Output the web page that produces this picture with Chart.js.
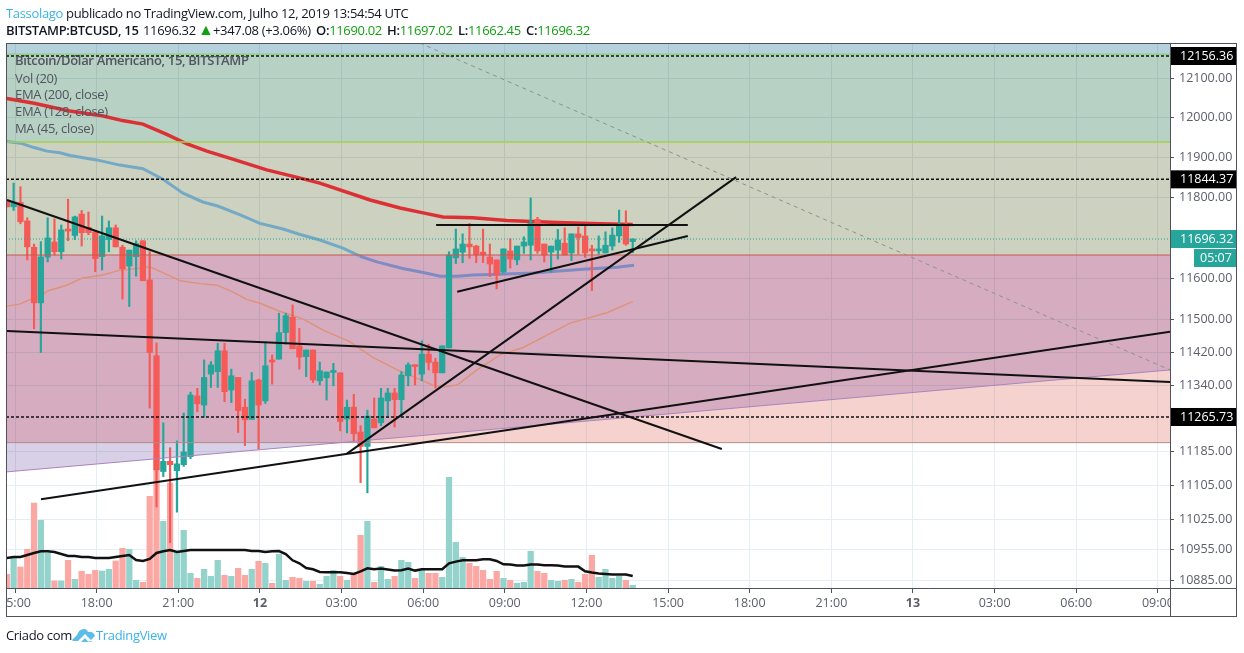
<!DOCTYPE html>
<html>
<head>
<meta charset="utf-8">
<style>
  html, body { margin: 0; padding: 0; background: #fff; overflow: hidden; }
  body { width: 1244px; height: 653px; position: relative; font-family: "Open Sans", sans-serif; }
  canvas { position: absolute; left: 0; top: 0; }
  .t { position: absolute; white-space: nowrap; font-size: 13px; letter-spacing: -0.33px; line-height: 16px; color: #131722; }
  .b { font-weight: 600; }
  .g { color: #12a012; }
  .leg { position: absolute; left: 15px; white-space: nowrap; font-size: 13px; letter-spacing: -0.33px; line-height: 16px; color: #51555f; }
</style>
<script src="https://cdn.jsdelivr.net/npm/chart.js@4/dist/chart.umd.min.js"></script>
</head>
<body>
<canvas id="chart" width="1244" height="653"></canvas>

<div class="t" style="left:6px;top:5px"><span style="color:#3cb2e6">Tassolago</span> publicado no TradingView.com, Julho 12, 2019 13:54:54 UTC</div>
<div class="t b" style="left:6px;top:22px">BITSTAMP:BTCUSD, 15</div>
<div class="t" style="left:143px;top:22px">11696.32</div>
<div class="t g" style="left:198px;top:21px;font-size:16px">&#9650;</div>
<div class="t" style="left:213px;top:22px">+347.08 (+3.06%)</div>
<div class="t" style="left:316px;top:22px"><span class="b">O:</span><span class="g">11690.02</span></div>
<div class="t" style="left:387px;top:22px"><span class="b">H:</span><span class="g">11697.02</span></div>
<div class="t" style="left:458px;top:22px"><span class="b">L:</span><span class="g">11662.45</span></div>
<div class="t" style="left:526px;top:22px"><span class="b">C:</span><span class="g">11696.32</span></div>

<div class="leg b" style="top:52px">Bitcoin/Dólar Americano, 15, BITSTAMP</div>
<div class="leg" style="top:70px">Vol (20)</div>
<div class="leg" style="top:86px">EMA (200, close)</div>
<div class="leg" style="top:103px">EMA (128, close)</div>
<div class="leg" style="top:120px">MA (45, close)</div>

<div class="t" style="left:6px;top:627px">Criado com</div>
<svg style="position:absolute;left:72px;top:627px" width="24" height="16" viewBox="0 0 24 16">
  <path d="M0 13 L5 8 Q7 2 12 2 Q15 2 16 5 Q21 4 23 9 L19 13 L13 7 L6 14 L1 14 Z M13 11 L16 14.5 Q20 15 23 12 L19 15 L9 15 Z" fill="#5cbde9"/>
</svg>
<div class="t" style="left:96px;top:627px;color:#3cb2e6">TradingView</div>

<script>
// 15 minute bars, first one is 14:45
const opens = [11790,11776,11787,11741,11676,11540,11652,11689,11665,11719,
  11705,11758,11725,11714,11653,11695,11724,11676,11630,11653,
  11692,11596,11412,11137,11161,11139,11153,11172,11316,11294,
  11368,11374,11424,11330,11360,11289,11260,11354,11304,11402,
  11404,11468,11505,11436,11410,11426,11352,11359,11372,11371,
  11261,11289,11230,11196,11261,11252,11304,11323,11307,11364,
  11390,11368,11416,11397,11371,11431,11650,11664,11684,11679,
  11664,11652,11645,11615,11667,11645,11679,11681,11745,11684,
  11664,11669,11686,11662,11709,11704,11672,11667,11662,11679,
  11704,11729,11690.02];
const highs = [11792,11835,11826,11749,11684,11690,11749,11746,11731,11795,
  11753,11767,11763,11714,11753,11741,11731,11681,11669,11692,
  11692,11665,11443,11252,11193,11209,11275,11325,11334,11402,
  11398,11442,11442,11380,11360,11308,11372,11356,11445,11414,
  11515,11515,11535,11478,11426,11426,11397,11373,11394,11371,
  11306,11320,11245,11282,11311,11334,11334,11334,11374,11395,
  11390,11448,11440,11406,11436,11665,11721,11709,11735,11681,
  11721,11684,11645,11672,11697,11679,11702,11798,11750,11684,
  11679,11720,11724,11709,11726,11731,11681,11704,11714,11724,
  11768,11766,11697.02];
const lows = [11776,11767,11734,11645,11477,11420,11640,11657,11647,11692,
  11695,11679,11707,11616,11620,11665,11677,11549,11531,11605,
  11594,11287,11054,11125,10971,11042,11149,11167,11278,11265,
  11336,11336,11302,11300,11229,11198,11260,11190,11298,11344,
  11404,11440,11429,11380,11362,11348,11342,11306,11340,11233,
  11228,11208,11111,11087,11240,11245,11264,11242,11265,11340,
  11342,11352,11378,11335,11371,11431,11636,11638,11649,11638,
  11638,11604,11574,11613,11625,11633,11661,11645,11661,11640,
  11615,11647,11657,11643,11659,11651,11570,11659,11662,11669,
  11688,11681,11662.45];
const closes = [11776,11788,11739,11677,11540,11652,11699,11665,11719,11716,
  11751,11712,11712,11648,11704,11724,11677,11623,11669,11685,
  11594,11420,11141,11161,11153,11155,11183,11318,11297,11360,
  11390,11424,11326,11364,11281,11259,11352,11294,11388,11397,
  11468,11509,11429,11409,11426,11354,11376,11373,11373,11255,
  11289,11226,11196,11268,11240,11311,11323,11307,11366,11390,
  11386,11416,11396,11371,11436,11657,11672,11684,11677,11657,
  11657,11635,11608,11672,11647,11679,11689,11735,11667,11657,
  11679,11694,11657,11709,11700,11662,11667,11669,11681,11706,
  11731,11684,11696.32];
const volumes = [13.7,30,21,38.7,85,67.7,35,7,7,27.7,
  8.7,16.7,13.7,17.7,17,18.7,27,39.7,38.7,7.7,
  5.7,91.7,134,66.7,105,35,57.7,14.7,9.7,18.7,
  11.7,27.7,12.7,11.7,19.7,12.7,18.7,26.7,24.7,4.7,
  33.7,7.7,10.7,9.7,6.7,6.7,3.7,11.7,17.7,11.7,
  7.7,13.7,52.7,66.7,5.7,21.7,8.7,11.7,27.7,25.7,
  9.7,17.7,14.7,14.7,10.7,110.7,45.7,30.7,24.7,21.7,
  17.7,8.7,16.7,9.7,7.7,4.7,5.7,36.7,16.7,14.7,
  7.7,6.7,7.7,8.7,5.7,13.7,32.7,10.7,18.7,9.7,
  11.7,7.7,2.7];
const volumeMA = [30,31,31,33,35,36.7,36.7,36,34,32,
  32,31,31,30,30,30,31,32,33,28,
  27,29,35,36.7,38,36,37,38,38,38,
  38,38,38,38,38,38,37,37,36,36.7,
  37,34,27.7,24.7,20,18.7,16,15.7,15.7,15.7,
  15,14,16.7,19.7,18.7,19.4,18.4,17.4,17.7,19.4,
  17.4,18.7,18.7,18.7,18.7,24.7,26.4,27.7,27.7,27.7,
  28.7,28.7,27,23.7,23.4,22.4,22.4,23.4,23.4,22.7,
  22.7,22.4,21.4,21.4,21.4,16.7,15.4,14.4,14,13.4,
  13.4,13.4,12];

// indicators, read at their bends
const ema200X = [-1,3,8,13,16,19,22.5,25.5,28.4,32.2,37.2,42,45,52.4,56.8,60.2,63.1,67.5,72.5,79.9,86.2,91];
const ema200 = [12048,12036,12017,12004,11992,11983,11957,11933,11915,11895,11868,11848,11835,11793,11773,11761,11751,11749,11742,11737,11734,11732];
const ema128X = [-1,1,3,4.9,6.8,8.3,12.2,15.6,19,22,24.9,27.8,30,33.3,36.2,39.6,42,45,48.4,50.9,53.4,57.2,60.2,62.7,65.2,67.5,71.5,76.3,83.7,88.7,91.2];
const ema128 = [11939,11935,11924,11915,11911,11904,11893,11880,11871,11844,11810,11788,11778,11756,11735,11721,11708,11694,11674,11654,11640,11624,11614,11605,11605,11608,11610,11613,11622,11627,11632];
const ma45X = [-1,0.9,2.4,3.9,5,7.8,10,13.1,15.2,18.1,20,22,24.5,27.4,29.9,32.2,34.3,36.2,39.2,42.5,45.5,49.4,52.8,56.4,58.7,61.6,63.1,65.2,68.1,71.5,74.9,78.4,81.8,87.2,91];
const ma45 = [11532,11537,11548,11555,11569,11583,11600,11608,11618,11624,11628,11613,11594,11587,11583,11567,11548,11539,11519,11501,11474,11446,11408,11378,11362,11342,11337,11342,11378,11414,11432,11462,11491,11516,11543];

// drawings: [x1, x2] and [price1, price2]
const xMin = -1.123, xMax = 169.98;
const priceMin = 10866.9, priceMax = 12189.7;
const trendA = { x: [-0.98, 104.1], y: [11793, 11190] };
const trendB = { x: [-0.98, xMax], y: [11472, 11349] };
const trendC = { x: [4.02, xMax], y: [11072, 11470] };
const trendD = { x: [49, 106.2], y: [11179, 11850] };
const trendE = { x: [65.2, 99.1], y: [11567, 11704] };
const trendF = { x: [62.1, 99.1], y: [11731, 11731] };
const grayLine = { x: [59.7, xMax], y: [priceMax, 11378] };
const wedge = { x: [xMin, xMax], y: [11136, 11378] };

const dottedLevels = [12156.36, 11844.37, 11265.73];
const lastPrice = 11696.32;
const zoneLevels = [priceMax, 12161, 11938, 11657, 11205];
const zoneColors = ['#b5d1dc', '#b7d1c4', '#ccd1c0'];
const zoneInside = '#d6adc0', zoneBelow = '#d8d0e6', zoneSalmon = '#f5d2cd';

const yTicks = [12100, 12000, 11900, 11800, 11600, 11500, 11420, 11340, 11185, 11105, 11025, 10955, 10885];
const xTickLabels = ['15:00','18:00','21:00','12','03:00','06:00','09:00','12:00','15:00','18:00','21:00','13','03:00','06:00','09:00'];
const timer = '05:07';

const TEAL = '#26a69a', RED = '#f55a56';
const barIdx = opens.map((_, k) => k - 1);
const isUp = k => closes[k] >= opens[k];
const zip = (xs, ys) => xs.map((x, k) => ({ x, y: ys[k] }));

function lineDs(points, color, width, dash, order, extra) {
  return Object.assign({
    type: 'line', data: points, borderColor: color, borderWidth: width, borderDash: dash || [],
    pointRadius: 0, tension: 0, fill: false, order: order, yAxisID: 'y', spanGaps: true
  }, extra || {});
}

const zonesPlugin = {
  id: 'zones',
  beforeDatasetsDraw(chart) {
    const { ctx, chartArea: a, scales: { y } } = chart;
    const ys = zoneLevels.map(v => y.getPixelForValue(v));
    const l0 = y.getPixelForValue(wedge.y[0]), l1 = y.getPixelForValue(wedge.y[1]);
    ctx.save();
    ctx.globalCompositeOperation = 'multiply';
    zoneColors.forEach((c, k) => {
      ctx.fillStyle = c;
      ctx.fillRect(a.left, ys[k], a.width, ys[k + 1] - ys[k]);
    });
    // above the rising purple line
    ctx.save();
    ctx.beginPath();
    ctx.moveTo(a.left, ys[3]); ctx.lineTo(a.right, ys[3]); ctx.lineTo(a.right, l1); ctx.lineTo(a.left, l0);
    ctx.closePath(); ctx.clip();
    ctx.fillStyle = zoneInside; ctx.fillRect(a.left, ys[3], a.width, ys[4] - ys[3]);
    ctx.fillStyle = zoneBelow; ctx.fillRect(a.left, ys[4], a.width, l0 - ys[4]);
    ctx.restore();
    // under it
    ctx.beginPath();
    ctx.moveTo(a.left, l0); ctx.lineTo(a.right, l1); ctx.lineTo(a.right, ys[4]); ctx.lineTo(a.left, ys[4]);
    ctx.closePath(); ctx.clip();
    ctx.fillStyle = zoneSalmon; ctx.fillRect(a.left, l1, a.width, ys[4] - l1);
    ctx.restore();
  }
};

const framePlugin = {
  id: 'frame',
  afterDraw(chart) {
    const { ctx, chartArea: a, scales: { y } } = chart;
    ctx.save();
    // time labels are cut by the pane edges
    ctx.fillStyle = '#fff';
    ctx.fillRect(0, a.bottom + 1, a.left, 28);
    ctx.fillRect(a.right, a.bottom + 1, 74, 27);
    ctx.font = '12.5px "Open Sans"';
    ctx.textBaseline = 'middle';
    const badge = (value, bg, x, text, dy) => {
      const py = y.getPixelForValue(value) + (dy || 0);
      ctx.fillStyle = bg;
      ctx.fillRect(x, py - 9, 1236 - x, 18);
      ctx.fillStyle = '#fff';
      ctx.fillText(text, x === 1171 ? 1180 : x + 6, py);
    };
    dottedLevels.forEach(v => badge(v, '#000', 1171, v.toFixed(2)));
    badge(lastPrice, TEAL, 1171, lastPrice.toFixed(2));
    badge(lastPrice, TEAL, 1194, timer, 19);
    ctx.strokeStyle = '#50535e';
    ctx.lineWidth = 1;
    ctx.strokeRect(6.5, 43.5, 1230, 573);
    ctx.beginPath();
    ctx.moveTo(a.right + 0.5, 43); ctx.lineTo(a.right + 0.5, 617);
    ctx.moveTo(6, a.bottom + 0.5); ctx.lineTo(1237, a.bottom + 0.5);
    ctx.stroke();
    ctx.restore();
  }
};

const datasets = [
  { type: 'bar', yAxisID: 'vol', order: 20, grouped: false, barThickness: 5.6,
    data: volumes.map((v, k) => ({ x: barIdx[k], y: v })),
    backgroundColor: volumes.map((_, k) => isUp(k) ? '#94d3cb' : '#fba8a5') },
  lineDs(zip(barIdx, volumeMA), '#111', 2.5, null, 15, { yAxisID: 'vol' }),
  lineDs(zip(ma45X, ma45), '#df9279', 1.4, null, 14),
  lineDs(zip(ema128X, ema128), '#7aaac6', 3, null, 13, {
    segment: { borderColor: c => c.p0.parsed.y > 11657 ? '#74a9c6' : '#7f8bc2' } }),
  lineDs(zip(ema200X, ema200), '#dc3035', 3.5, null, 12),
  { type: 'bar', yAxisID: 'y', order: 6, grouped: false, barThickness: 1.5,
    data: lows.map((v, k) => ({ x: barIdx[k], y: [v, highs[k]] })),
    backgroundColor: lows.map((_, k) => isUp(k) ? TEAL : RED) },
  { type: 'bar', yAxisID: 'y', order: 5, grouped: false, barThickness: 5.6, minBarLength: 2,
    data: opens.map((v, k) => ({ x: barIdx[k], y: [v, closes[k]] })),
    backgroundColor: opens.map((_, k) => isUp(k) ? TEAL : RED) },
  lineDs(zip(wedge.x, wedge.y), '#ab84bd', 1, null, 4),
  lineDs(zip([xMin, xMax], [zoneLevels[1], zoneLevels[1]]), '#8fd37f', 1.5, null, 4),
  lineDs(zip([xMin, xMax], [zoneLevels[2], zoneLevels[2]]), '#a5d152', 1.5, null, 4),
  lineDs(zip([xMin, xMax], [zoneLevels[3], zoneLevels[3]]), '#c9564f', 1, null, 4),
  lineDs(zip([xMin, xMax], [zoneLevels[4], zoneLevels[4]]), '#b08a8a', 1, null, 4),
  lineDs(zip(grayLine.x, grayLine.y), '#8d9289', 1, [4, 4], 3),
  lineDs(zip([xMin, xMax], [lastPrice, lastPrice]), TEAL, 1, [1, 2], 3)
];
dottedLevels.forEach(v => datasets.push(lineDs(zip([xMin, xMax], [v, v]), '#111', 1.5, [3, 2], 2)));
[trendA, trendB, trendC, trendD, trendE, trendF].forEach(t => datasets.push(lineDs(zip(t.x, t.y), '#111', 2, null, 1)));

new Chart(document.getElementById('chart'), {
  type: 'bar',
  data: { datasets },
  plugins: [zonesPlugin, framePlugin],
  options: {
    responsive: false,
    animation: false,
    layout: { padding: { left: 6, top: 43, right: 8, bottom: 37 } },
    plugins: { legend: { display: false }, tooltip: { enabled: false } },
    scales: {
      x: {
        type: 'linear', offset: false, min: xMin, max: xMax,
        grid: { offset: false, color: '#e6eef5', tickColor: '#50535e', tickLength: 5 },
        afterBuildTicks: s => { s.ticks = xTickLabels.map((_, k) => ({ value: 12 * k + 0.2 })); },
        afterFit: s => { s.height = 28; s.paddingLeft = 0; s.paddingRight = 0; },
        ticks: {
          autoSkip: false, maxRotation: 0, padding: 3, color: '#5d606b',
          font: c => ['12', '13'].includes(c.tick && c.tick.label) ? { family: 'Open Sans', size: 12.5, weight: 'bold' } : { family: 'Open Sans', size: 12.5 },
          callback: (v, k) => xTickLabels[k]
        }
      },
      y: {
        type: 'logarithmic', position: 'right', min: priceMin, max: priceMax,
        grid: { color: '#e6eef5', tickColor: '#50535e', tickLength: 4 },
        afterBuildTicks: s => { s.ticks = yTicks.map(v => ({ value: v })); },
        afterFit: s => { s.width = 66; s.paddingTop = 0; s.paddingBottom = 0; },
        ticks: {
          autoSkip: false, padding: 5, color: '#5d606b',
          font: { family: 'Open Sans', size: 12.5 },
          callback: v => Number(v).toFixed(2)
        }
      },
      vol: { type: 'linear', display: false, min: 0, max: 545 }
    }
  }
});
</script>
</body>
</html>
